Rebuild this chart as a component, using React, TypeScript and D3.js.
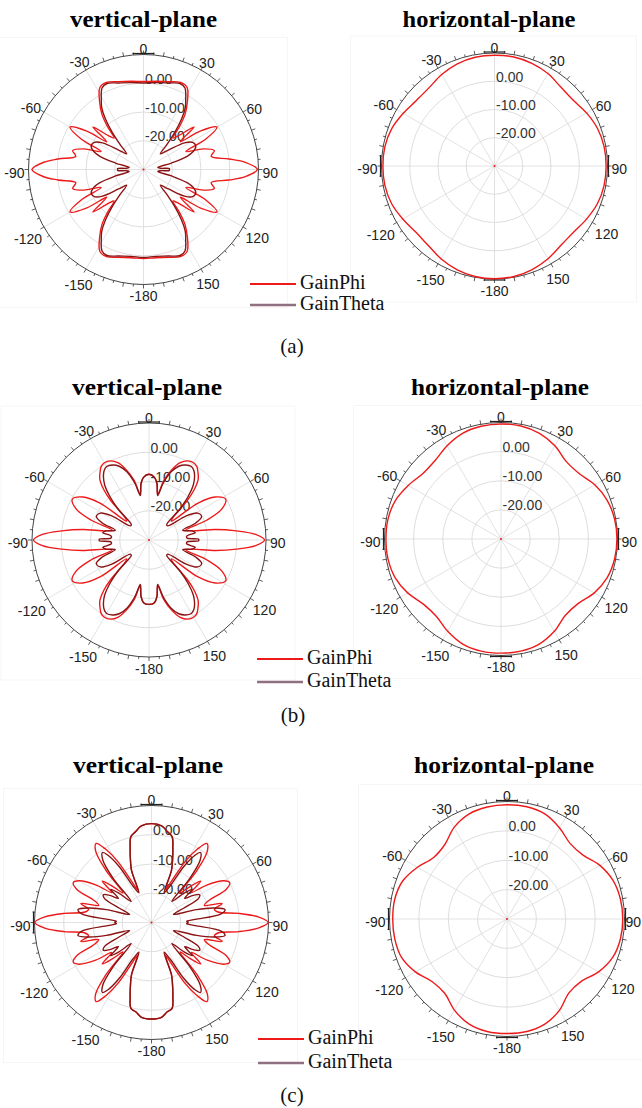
import { useEffect, useRef } from 'react';
import * as d3 from 'd3';

// [angle in degrees, clockwise from the top; gain in dB]
type Pt = [number, number];

const angleLabels = ['0', '30', '60', '90', '120', '150', '-180', '-150', '-120', '-90', '-60', '-30'];
const ringLevels = [-20, -10, 0];
const ringLabels = ['-20.00', '-10.00', '0.00'];
const gainDomain: [number, number] = [-30, 10];
const seriesNames = ['GainPhi', 'GainTheta'];
const captions = ['(a)', '(b)', '(c)'];

// vertical plane, case (a)
const vaPhi: Pt[] = [
  [0, 0.6], [8, 1.0], [16, 1.8], [23, 2.9], [28, 2.3], [33, -2], [37, -6], [40, -10.5], [43, -15], [46, -13],
  [50, -7], [53, -14], [56, -6], [60, -0.5], [64, -6], [67, -14], [71, -8], [75, -4.5], [79, -6], [83, 0],
  [86, 5.5], [90, 9.6], [94, 5.5], [97, 0], [101, -6], [105, -4.5], [109, -8], [113, -14], [116, -6], [120, -0.5],
  [124, -6], [127, -14], [130, -7], [134, -13], [137, -15], [140, -10.5], [143, -6], [147, -2], [152, 2.3], [157, 2.9],
  [164, 1.8], [172, 1.0], [180, 1.0],
  [188, 1.0], [196, 1.8], [203, 2.9], [208, 2.3], [213, -2], [217, -6], [220, -10.5], [223, -15], [226, -13], [230, -7],
  [233, -14], [236, -6], [240, -0.5], [244, -6], [247, -14], [251, -8], [255, -4.5], [259, -6], [263, 0], [266, 5],
  [270, 8.8], [274, 5], [277, 0], [281, -6], [285, -4.5], [289, -8], [293, -14], [296, -6], [300, -0.5], [304, -6],
  [307, -14], [310, -7], [314, -13], [317, -15], [320, -10.5], [323, -6], [327, -2], [332, 2.3], [337, 2.9], [344, 1.8],
  [352, 1.0],
];
const vaTheta: Pt[] = [
  [0, 0.1], [8, 0.5], [16, 1.3], [23, 2.5], [27, 1.8], [31, -1.5], [34, -4], [37, -8], [40, -13], [43, -18],
  [47, -22], [52, -19], [57, -13], [61, -10.5], [65, -10], [69, -11], [73, -14], [77, -20], [82, -25], [86, -24],
  [88, -21], [90, -21], [92, -21], [94, -24], [98, -25], [103, -20], [107, -14], [111, -11], [115, -10], [119, -10.5],
  [123, -13], [128, -19], [133, -22], [137, -18], [140, -13], [143, -8], [146, -4], [149, -1.5], [153, 1.8], [157, 2.5],
  [164, 1.3], [172, 0.5], [180, 0.6],
  [188, 0.5], [196, 1.3], [203, 2.5], [207, 1.8], [211, -1.5], [214, -4], [217, -8], [220, -13], [223, -18], [227, -22],
  [232, -19], [237, -13], [241, -10.5], [245, -10], [249, -11], [253, -14], [257, -20], [262, -25], [266, -24], [268, -21],
  [270, -21], [272, -21], [274, -24], [278, -25], [283, -20], [287, -14], [291, -11], [295, -10], [299, -10.5], [303, -13],
  [308, -19], [313, -22], [317, -18], [320, -13], [323, -8], [326, -4], [329, -1.5], [333, 1.8], [337, 2.5], [344, 1.3],
  [352, 0.5],
];

// vertical plane, case (b)
const vbPhi: Pt[] = [
  [0, -7.5], [5, -8.5], [8, -10.5], [11, -14], [14, -9], [18, -4.7], [22, -1.5], [26, 0.1], [30, 0.5], [33, 0],
  [36, -1.5], [39, -3.3], [42, -7], [44, -11], [47, -19], [50, -20], [53, -9], [57, -3], [62, -0.3], [67, -3],
  [71, -9], [75, -17], [78, -15], [81, -7], [84, 0], [87, 6.5], [90, 9.5], [93, 6.5], [96, 0], [99, -7],
  [102, -15], [105, -17], [109, -9], [113, -3], [118, -0.3], [123, -3], [127, -9], [130, -20], [133, -19], [136, -11],
  [138, -7], [141, -3.3], [144, -1.5], [147, 0], [150, 0.5], [154, 0.1], [158, -1.5], [162, -4.7], [166, -9], [169, -14],
  [172, -10.5], [175, -8.5], [180, -8],
  [185, -8.5], [188, -10.5], [191, -14], [194, -9], [198, -4.7], [202, -1.5], [206, 0.1], [210, 0.5], [213, 0], [216, -1.5],
  [219, -3.3], [222, -7], [224, -11], [227, -19], [230, -20], [233, -9], [237, -3], [242, -0.3], [247, -3], [251, -9],
  [255, -17], [258, -15], [261, -7], [264, 0], [267, 6.5], [270, 9.5], [273, 6.5], [276, 0], [279, -7], [282, -15],
  [285, -17], [289, -9], [293, -3], [298, -0.3], [303, -3], [307, -9], [310, -20], [313, -19], [316, -11], [318, -7],
  [321, -3.3], [324, -1.5], [327, 0], [330, 0.5], [334, 0.1], [338, -1.5], [342, -4.7], [346, -9], [349, -14], [352, -10.5],
  [355, -8.5],
];
const vbTheta: Pt[] = [
  [0, -7.5], [5, -8.5], [8, -10.5], [11, -14.5], [14, -10], [18, -5.5], [22, -2.8], [26, -1.5], [30, -1], [33, -1.8],
  [36, -3.5], [39, -6], [42, -10], [45, -15], [49, -22], [53, -22], [57, -15], [61, -11], [66, -10.3], [70, -13],
  [74, -18], [78, -15], [81, -14], [84, -17], [87, -17], [89, -13], [90, -13], [91, -13], [93, -17], [96, -17],
  [99, -14], [102, -15], [106, -18], [110, -13], [114, -10.3], [119, -11], [123, -15], [127, -22], [131, -22], [135, -15],
  [138, -10], [141, -6], [144, -3.5], [147, -1.8], [150, -1], [154, -1.5], [158, -2.8], [162, -5.5], [166, -10], [169, -14.5],
  [172, -10.5], [175, -8.5], [180, -8],
  [185, -8.5], [188, -10.5], [191, -14.5], [194, -10], [198, -5.5], [202, -2.8], [206, -1.5], [210, -1], [213, -1.8], [216, -3.5],
  [219, -6], [222, -10], [225, -15], [229, -22], [233, -22], [237, -15], [241, -11], [246, -10.3], [250, -13], [254, -18],
  [258, -15], [261, -14], [264, -17], [267, -17], [269, -13], [270, -13], [271, -13], [273, -17], [276, -17], [279, -14],
  [282, -15], [286, -18], [290, -13], [294, -10.3], [299, -11], [303, -15], [307, -22], [311, -22], [315, -15], [318, -10],
  [321, -6], [324, -3.5], [327, -1.8], [330, -1], [334, -1.5], [338, -2.8], [342, -5.5], [346, -10], [349, -14.5], [352, -10.5],
  [355, -8.5],
];

// vertical plane, case (c)
const vcPhi: Pt[] = [
  [0, 3.8], [6, 3.2], [10, 1.5], [13.5, 0.2], [16, -3.5], [19, -8], [21, -11], [23, -18], [26, -14], [29, -6],
  [32, -0.5], [35, 3], [38, 1], [41, -6], [44, -16], [47, -12], [50, -8], [53, -13], [56, -7], [60, -1.5],
  [63, 0], [66, -2], [69, -9], [72, -11], [75, -5], [78, -8], [81, -7], [84, 0], [87, 6.5], [90, 9.9],
  [93, 6.5], [96, 0], [99, -7], [102, -8], [105, -5], [108, -11], [111, -9], [114, -2], [117, 0], [120, -1.5],
  [124, -7], [127, -13], [130, -8], [133, -12], [136, -16], [139, -6], [142, 1], [145, 3], [148, -0.5], [151, -6],
  [154, -14], [157, -18], [159, -11], [161, -8], [164, -3.5], [166.5, 0.2], [170, 1.0], [174, 2.6], [180, 3.0],
  [186, 2.6], [190, 1.0], [193.5, 0.2], [196, -3.5], [199, -8], [201, -11], [203, -18], [206, -14], [209, -6], [212, -0.5],
  [215, 3], [218, 1], [221, -6], [224, -16], [227, -12], [230, -8], [233, -13], [236, -7], [240, -1.5], [243, 0],
  [246, -2], [249, -9], [252, -11], [255, -5], [258, -8], [261, -7], [264, 0], [267, 6.5], [270, 9.9], [273, 6.5],
  [276, 0], [279, -7], [282, -8], [285, -5], [288, -11], [291, -9], [294, -2], [297, 0], [300, -1.5], [304, -7],
  [307, -13], [310, -8], [313, -12], [316, -16], [319, -6], [322, 1], [325, 3], [328, -0.5], [331, -6], [334, -14],
  [337, -18], [339, -11], [341, -8], [344, -3.5], [346.5, 0.2], [350, 1.5], [354, 3.2],
];
const vcTheta: Pt[] = [
  [0, 3.8], [6, 3.2], [10, 1.5], [13.5, 0.2], [16, -3.5], [19, -8], [21, -11], [23, -19], [27, -16], [30, -8],
  [33, -2.5], [35, -0.8], [38, -3], [41, -10], [44, -20], [48, -15], [51, -12], [54, -16], [57, -13], [60, -11],
  [63, -12], [66, -18], [70, -22], [74, -14], [77, -8], [80, -4.5], [83, -6], [86, -15], [88, -18], [89.5, -17.5],
  [90.5, -17.5], [92, -18], [94, -15], [97, -6], [100, -4.5], [103, -8], [106, -14], [110, -22], [114, -18], [117, -12],
  [120, -11], [123, -13], [126, -16], [129, -12], [132, -15], [136, -20], [139, -10], [142, -3], [145, -0.8], [147, -2.5],
  [150, -8], [153, -16], [157, -19], [159, -11], [161, -8], [164, -3.5], [166.5, 0.2], [170, 1.0], [174, 2.6], [180, 3.0],
  [186, 2.6], [190, 1.0], [193.5, 0.2], [196, -3.5], [199, -8], [201, -11], [203, -19], [207, -16], [210, -8], [213, -2.5],
  [215, -0.8], [218, -3], [221, -10], [224, -20], [228, -15], [231, -12], [234, -16], [237, -13], [240, -11], [243, -12],
  [246, -18], [250, -22], [254, -14], [257, -8], [260, -4.5], [263, -6], [266, -15], [268, -18], [269.5, -17.5], [270.5, -17.5],
  [272, -18], [274, -15], [277, -6], [280, -4.5], [283, -8], [286, -14], [290, -22], [294, -18], [297, -12], [300, -11],
  [303, -13], [306, -16], [309, -12], [312, -15], [316, -20], [319, -10], [322, -3], [325, -0.8], [327, -2.5], [330, -8],
  [333, -16], [337, -19], [339, -11], [341, -8], [344, -3.5], [346.5, 0.2], [350, 1.5], [354, 3.2],
];

// horizontal plane (GainPhi), sampled every 10 degrees
const hAngles = [0, 10, 20, 30, 40, 50, 60, 70, 80, 90, 100, 110, 120, 130, 140, 150, 160, 170,
  180, 190, 200, 210, 220, 230, 240, 250, 260, 270, 280, 290, 300, 310, 320, 330, 340, 350];
const haPhi = [9.2, 9.2, 8.7, 7.8, 6.5, 6.3, 7.6, 8.8, 9.4, 9.5, 9.4, 8.8, 7.6, 6.5, 6.6, 7.9, 9.0, 9.7,
  9.9, 9.7, 9.0, 7.9, 6.6, 6.4, 7.5, 8.8, 9.4, 9.5, 9.4, 8.7, 7.3, 6.1, 6.1, 7.4, 8.5, 9.1];
const hbPhi = [9.5, 9.4, 8.6, 7.0, 4.8, 5.0, 7.2, 8.8, 9.6, 9.8, 9.6, 8.8, 7.0, 4.5, 4.3, 6.6, 8.4, 9.1,
  9.2, 9.1, 8.4, 6.6, 4.6, 4.8, 7.0, 8.7, 9.4, 9.5, 9.4, 8.6, 6.8, 5.0, 5.2, 7.0, 8.6, 9.3];
const hcPhi = [8.9, 8.8, 8.0, 5.8, 3.5, 3.8, 6.5, 8.4, 9.2, 9.4, 9.2, 8.3, 6.0, 3.0, 2.8, 5.8, 8.0, 8.9,
  9.0, 8.9, 8.0, 5.8, 3.0, 3.2, 6.0, 8.2, 8.8, 8.9, 8.8, 7.8, 5.2, 2.6, 3.0, 6.0, 8.0, 8.7];

const RED = '#ee1a1a';
const DARK = '#8a1414';

const toPts = (vals: number[]): Pt[] => vals.map((v, i) => [hAngles[i], v]);

interface Panel {
  cx: number; cy: number; R: number;
  title: string; tx: number; ty: number; tlen: number;
  curves: { pts: Pt[]; color: string }[];
  bars: number[];
}

const panels: Panel[] = [
  { cx: 143.5, cy: 169.5, R: 115, title: 'vertical-plane', tx: 143.5, ty: 27, tlen: 147,
    curves: [{ pts: vaPhi, color: RED }, { pts: vaTheta, color: DARK }], bars: [0] },
  { cx: 494.5, cy: 166, R: 113, title: 'horizontal-plane', tx: 489, ty: 27, tlen: 173,
    curves: [{ pts: toPts(haPhi), color: RED }], bars: [0, 90, 180, 270] },
  { cx: 149, cy: 540, R: 117, title: 'vertical-plane', tx: 147, ty: 395, tlen: 150,
    curves: [{ pts: vbPhi, color: RED }, { pts: vbTheta, color: DARK }], bars: [0] },
  { cx: 501, cy: 539, R: 116.5, title: 'horizontal-plane', tx: 500, ty: 395, tlen: 178,
    curves: [{ pts: toPts(hbPhi), color: RED }], bars: [0, 90, 180, 270] },
  { cx: 151.5, cy: 922.5, R: 117, title: 'vertical-plane', tx: 148, ty: 773, tlen: 150,
    curves: [{ pts: vcPhi, color: RED }, { pts: vcTheta, color: DARK }], bars: [0, 270] },
  { cx: 507, cy: 919, R: 117.5, title: 'horizontal-plane', tx: 504, ty: 773, tlen: 180,
    curves: [{ pts: toPts(hcPhi), color: RED }], bars: [0, 90, 180, 270] },
];

const legends = [
  { x: 250, y: 284, gap: 21, cap: 292, capY: 353 },
  { x: 257, y: 659, gap: 23, cap: 293, capY: 722 },
  { x: 258, y: 1039, gap: 24, cap: 292, capY: 1102 },
];

const SANS = '"Liberation Sans", Arial, sans-serif';
const SERIF = '"Liberation Serif", "Times New Roman", serif';

const App = () => {
  const ref = useRef<SVGSVGElement>(null);

  useEffect(() => {
    document.body.style.margin = '0';
    const svg = d3.select(ref.current);
    svg.selectAll('*').remove();
    svg.append('rect').attr('width', 642).attr('height', 1108).attr('fill', '#fff');

    panels.forEach((p) => {
      const r = d3.scaleLinear().domain(gainDomain).range([0, p.R]).clamp(true);
      const rad = (a: number) => (a * Math.PI) / 180;

      svg.append('text')
        .attr('x', p.tx).attr('y', p.ty)
        .attr('text-anchor', 'middle')
        .attr('font-family', SERIF).attr('font-weight', 'bold').attr('font-size', 23.5)
        .attr('textLength', p.tlen).attr('lengthAdjust', 'spacingAndGlyphs')
        .text(p.title);

      const g = svg.append('g').attr('transform', `translate(${p.cx},${p.cy})`);

      g.append('rect')
        .attr('x', -p.R - 31).attr('y', -p.R - 17)
        .attr('width', 2 * p.R + 60).attr('height', 2 * p.R + 40)
        .attr('fill', 'none').attr('stroke', '#f5f5f5');

      // grid
      g.selectAll('.ring').data(ringLevels).enter().append('circle')
        .attr('r', (d) => r(d)).attr('fill', 'none').attr('stroke', '#d4d4d4').attr('stroke-width', 0.8);
      g.selectAll('.spoke').data(angleLabels.map((_, i) => i * 30)).enter().append('line')
        .attr('x1', 0).attr('y1', 0)
        .attr('x2', (a) => p.R * Math.sin(rad(a))).attr('y2', (a) => -p.R * Math.cos(rad(a)))
        .attr('stroke', '#dadada').attr('stroke-width', 0.8);

      g.append('circle').attr('r', p.R).attr('fill', 'none').attr('stroke', '#444').attr('stroke-width', 1);
      g.selectAll('.tick').data(d3.range(0, 360, 5)).enter().append('line')
        .attr('x1', (a) => p.R * Math.sin(rad(a))).attr('y1', (a) => -p.R * Math.cos(rad(a)))
        .attr('x2', (a) => (p.R + (a % 10 === 0 ? 4 : 2.5)) * Math.sin(rad(a)))
        .attr('y2', (a) => -(p.R + (a % 10 === 0 ? 4 : 2.5)) * Math.cos(rad(a)))
        .attr('stroke', '#333').attr('stroke-width', 0.8);

      p.bars.forEach((a) => {
        const ux = Math.sin(rad(a)), uy = -Math.cos(rad(a));
        const bx = (p.R + 1) * ux, by = (p.R + 1) * uy;
        g.append('line')
          .attr('x1', bx - 11 * uy).attr('y1', by + 11 * ux)
          .attr('x2', bx + 11 * uy).attr('y2', by - 11 * ux)
          .attr('stroke', '#222').attr('stroke-width', 1.2);
      });

      // angle labels
      angleLabels.forEach((lab, i) => {
        const a = rad(i * 30);
        const t = g.append('text')
          .attr('font-family', SANS).attr('font-size', 14).attr('fill', '#222')
          .attr('text-anchor', 'middle').attr('dy', '0.36em')
          .text(lab);
        const w = (t.node() as SVGTextElement).getComputedTextLength();
        const rr = p.R + 4 + Math.abs(Math.sin(a)) * (w / 2) + Math.abs(Math.cos(a)) * 4.5;
        const x = Math.min(rr * Math.sin(a), 641 - p.cx - w / 2);
        t.attr('x', x).attr('y', -rr * Math.cos(a) + 3);
      });

      // ring labels
      ringLevels.forEach((v, i) => {
        g.append('text')
          .attr('x', 1.5).attr('y', -r(v) + 0.5)
          .attr('font-family', SANS).attr('font-size', 14).attr('fill', '#333')
          .text(ringLabels[i]);
      });

      // curves
      const line = d3.lineRadial<Pt>()
        .angle((d) => rad(d[0]))
        .radius((d) => r(d[1]))
        .curve(d3.curveCatmullRomClosed.alpha(0.5));
      p.curves.forEach((c) => {
        g.append('path').attr('d', line(c.pts)).attr('fill', 'none')
          .attr('stroke', c.color).attr('stroke-width', 1.4).attr('stroke-linejoin', 'round');
      });
      g.append('circle').attr('r', 1).attr('fill', RED);
    });

    legends.forEach((l, i) => {
      [RED, '#8e7080'].forEach((col, j) => {
        const y = l.y + j * l.gap;
        svg.append('line').attr('x1', l.x).attr('x2', l.x + 46).attr('y1', y).attr('y2', y)
          .attr('stroke', col).attr('stroke-width', j === 0 ? 1.8 : 2.6);
        svg.append('text').attr('x', l.x + 50).attr('y', y + 5)
          .attr('font-family', SERIF).attr('font-size', 20).attr('fill', '#111')
          .text(seriesNames[j]);
      });
      svg.append('text').attr('x', l.cap).attr('y', l.capY).attr('text-anchor', 'middle')
        .attr('font-family', SERIF).attr('font-size', 21).attr('fill', '#111')
        .text(captions[i]);
    });
  }, []);

  return <svg ref={ref} width={642} height={1108} style={{ display: 'block' }} />;
};

export default App;
